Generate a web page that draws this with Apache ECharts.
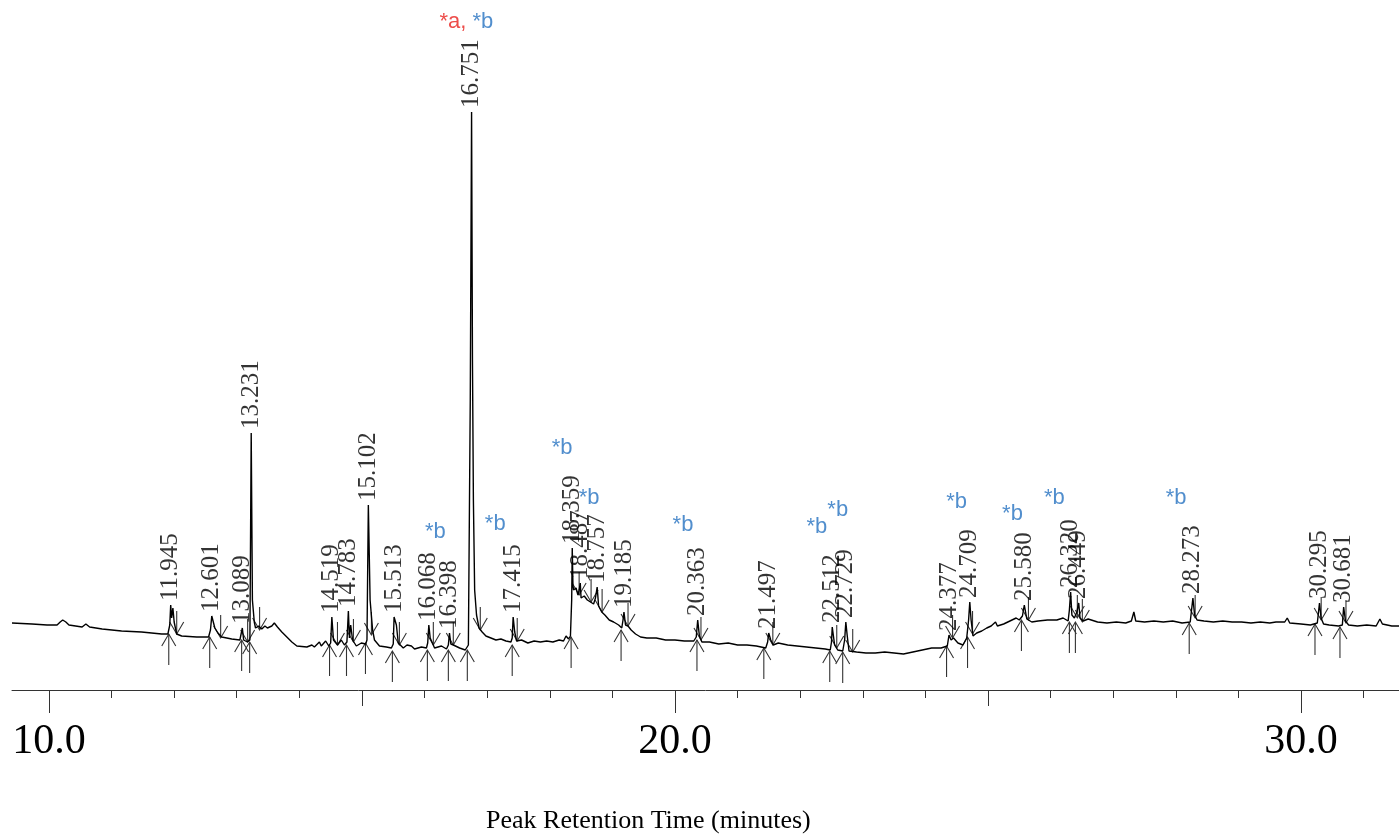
<!DOCTYPE html>
<html><head><meta charset="utf-8">
<script src="https://cdn.jsdelivr.net/npm/echarts@6/dist/echarts.min.js"></script>
<style>html,body{margin:0;padding:0;background:#fff}#c{width:1399px;height:836px}</style>
</head><body><div id="c"></div>
<script>
// Chromatogram trace: [retention time (min), detector signal (arb.)]
const chromatogram = [[9.41,67],[9.73,66],[9.97,65],[10.13,65],[10.18,68],[10.22,70],[10.27,68],[10.32,65],[10.53,63],[10.59,66],[10.65,63],[10.85,61],[11.16,59],[11.48,58],[11.80,56],[11.90,56],[11.93,65],[11.945,85],[11.96,72],[11.98,82],[12.00,68],[12.04,56],[12.12,54],[12.36,53],[12.55,53],[12.58,60],[12.601,74],[12.62,72],[12.65,62],[12.70,57],[12.76,53],[12.92,51],[13.05,50],[13.089,62],[13.11,50],[13.17,48],[13.21,50],[13.231,257],[13.25,90],[13.28,68],[13.30,62],[13.35,64],[13.40,61],[13.45,64],[13.49,62],[13.56,64],[13.60,67],[13.65,63],[13.72,58],[13.80,53],[13.88,48],[13.96,44],[14.12,43],[14.20,45],[14.24,43],[14.27,44],[14.32,48],[14.35,44],[14.42,49],[14.47,44],[14.50,47],[14.519,73],[14.545,50],[14.61,45],[14.67,50],[14.72,45],[14.76,48],[14.783,79],[14.80,52],[14.82,65],[14.85,50],[14.91,44],[14.99,47],[15.06,46],[15.08,50],[15.102,185],[15.13,90],[15.17,60],[15.20,50],[15.28,44],[15.39,43],[15.47,42],[15.50,46],[15.513,73],[15.55,65],[15.58,47],[15.66,42],[15.72,45],[15.79,44],[15.84,41],[15.95,43],[16.03,42],[16.05,47],[16.068,65],[16.09,52],[16.11,50],[16.16,42],[16.27,44],[16.35,41],[16.38,45],[16.398,57],[16.42,46],[16.46,45],[16.56,42],[16.65,40],[16.70,45],[16.73,290],[16.751,578],[16.765,330],[16.78,190],[16.80,100],[16.83,75],[16.87,62],[16.92,58],[16.98,54],[17.06,52],[17.14,50],[17.22,51],[17.30,49],[17.38,48],[17.40,52],[17.415,73],[17.44,58],[17.47,49],[17.55,50],[17.65,47],[17.75,49],[17.85,48],[17.95,49],[18.05,48],[18.15,50],[18.22,49],[18.26,54],[18.30,51],[18.33,54],[18.35,90],[18.359,142],[18.37,105],[18.38,100],[18.42,102],[18.45,95],[18.47,100],[18.487,107],[18.50,92],[18.55,94],[18.60,90],[18.65,88],[18.70,86],[18.73,92],[18.757,103],[18.78,84],[18.83,78],[18.88,75],[18.95,70],[19.02,68],[19.10,65],[19.15,62],[19.17,70],[19.185,78],[19.21,65],[19.25,64],[19.30,60],[19.37,56],[19.45,53],[19.55,52],[19.70,52],[19.85,50],[20.00,50],[20.15,49],[20.30,49],[20.34,53],[20.363,70],[20.39,54],[20.43,48],[20.55,48],[20.70,46],[20.85,47],[21.00,45],[21.15,45],[21.30,44],[21.45,42],[21.48,48],[21.497,57],[21.53,50],[21.57,45],[21.65,47],[21.80,45],[21.95,44],[22.10,43],[22.25,42],[22.40,41],[22.48,40],[22.50,48],[22.512,63],[22.55,45],[22.60,40],[22.68,39],[22.71,50],[22.729,68],[22.75,55],[22.78,39],[22.90,38],[23.05,37],[23.20,37],[23.35,38],[23.50,37],[23.65,36],[23.80,38],[23.95,40],[24.10,42],[24.25,42],[24.35,44],[24.377,55],[24.41,50],[24.45,52],[24.52,47],[24.60,45],[24.66,52],[24.69,70],[24.709,88],[24.73,70],[24.76,54],[24.82,57],[24.90,59],[24.98,62],[25.05,64],[25.12,68],[25.15,64],[25.25,66],[25.35,69],[25.45,72],[25.50,70],[25.55,74],[25.58,85],[25.62,71],[25.70,68],[25.80,69],[25.95,70],[26.10,70],[26.20,72],[26.28,69],[26.30,80],[26.32,98],[26.34,75],[26.38,72],[26.42,78],[26.449,87],[26.47,72],[26.52,69],[26.60,71],[26.75,68],[26.90,67],[27.05,68],[27.20,67],[27.29,69],[27.33,78],[27.36,69],[27.50,68],[27.65,69],[27.80,68],[27.95,69],[28.10,67],[28.23,68],[28.273,92],[28.30,75],[28.34,70],[28.45,69],[28.60,68],[28.75,69],[28.90,68],[29.05,68],[29.20,67],[29.35,68],[29.50,67],[29.60,68],[29.74,68],[29.78,72],[29.82,67],[30.00,66],[30.15,65],[30.26,67],[30.295,87],[30.32,72],[30.36,66],[30.45,65],[30.60,64],[30.66,65],[30.681,83],[30.71,69],[30.76,65],[30.90,64],[31.05,65],[31.20,64],[31.26,71],[31.30,66],[31.45,64],[31.565,64]];

// Labelled peaks
const peakTimes  = [11.945,12.601,13.089,13.231,14.519,14.783,15.102,15.513,16.068,16.398,16.751,17.415,18.359,18.487,18.757,19.185,20.363,21.497,22.512,22.729,24.377,24.709,25.580,26.320,26.449,28.273,30.295,30.681];
const peakLabels = ["11.945","12.601","13.089","13.231","14.519","14.783","15.102","15.513","16.068","16.398","16.751","17.415","18.359","18.487","18.757","19.185","20.363","21.497","22.512","22.729","24.377","24.709","25.580","26.320","26.449","28.273","30.295","30.681"];
const peakApex   = [85,74,62,257,73,79,185,73,65,57,578,73,142,107,103,78,70,57,63,68,55,88,85,98,87,92,87,83];

// Integration markers (peak start: arrow from below; peak end: arrow from above)
const startTimes  = [11.914,12.568,13.078,13.206,14.482,14.753,15.056,15.486,16.045,16.380,16.683,17.400,18.341,19.139,20.351,21.419,22.472,22.679,24.338,24.673,25.534,26.300,26.396,28.214,30.223,30.622];
const startLevels = [56,53,50,48,45,45,47,39,40,40,40,45,53,60,50,42,39,38,44,53,70,68,68,67,66,63];
const endTimes    = [12.041,12.743,13.174,13.365,14.609,14.864,15.151,15.598,16.140,16.459,16.890,17.480,18.469,18.660,18.836,19.250,20.415,21.563,22.584,22.839,24.434,24.753,25.646,26.427,26.507,28.309,30.322,30.718];
const endLevels   = [56,52,48,60,45,48,55,45,45,45,60,49,95,88,78,64,50,45,42,38,52,56,70,72,68,72,70,67];

// Annotations
const noteTimes  = [16.172,17.129,18.198,18.628,20.128,22.265,22.600,24.498,25.391,26.061,28.006];
const noteLevels = [158,166,242,192,165,163,180,188,176,192,192];
const mainNote = {time: 16.667, level: 668};

// Axis ticks
const minorTicks = [10,11,12,13,14,15,16,17,18,19,20,21,22,23,24,25,26,27,28,29,30,31];
const midTicks = [15,25];
const majorTicks = [10,20,30];

const X_MIN = 9.41, X_MAX = 31.565;
const chart = echarts.init(document.getElementById('c'));

const arrowData = startTimes.map((t,i)=>[t,startLevels[i],1]).concat(endTimes.map((t,i)=>[t,endLevels[i],-1]));

function axisBase(extra){
  return Object.assign({type:'value', min:X_MIN, max:X_MAX, position:'bottom', gridIndex:0,
    splitLine:{show:false}, axisLine:{show:false}, axisLabel:{show:false}, axisTick:{show:false}}, extra);
}

chart.setOption({
  animation:false,
  backgroundColor:'#fff',
  grid:{left:12,right:0,top:0,bottom:146},
  xAxis:[
    axisBase({
      axisLine:{show:true,lineStyle:{color:'#333',width:1}},
      axisTick:{show:true,length:8,customValues:minorTicks,lineStyle:{color:'#333',width:1}},
      axisLabel:{show:true,customValues:majorTicks,margin:31,fontFamily:'Liberation Serif',fontSize:42,color:'#000',
        formatter:v=>v.toFixed(1)}
    }),
    axisBase({axisTick:{show:true,length:16,customValues:midTicks,lineStyle:{color:'#333',width:1}}}),
    axisBase({axisTick:{show:true,length:23,customValues:majorTicks,lineStyle:{color:'#333',width:1}}})
  ],
  yAxis:{type:'value',min:0,max:690,show:false},
  graphic:[{type:'text',left:486,top:808,style:{text:'Peak Retention Time (minutes)',fontFamily:'Liberation Serif',fontSize:26,fill:'#000'}}],
  series:[
    {type:'line',data:chromatogram,showSymbol:false,symbol:'none',lineStyle:{color:'#000',width:1.4},silent:true,z:3},
    {type:'custom',data:arrowData,silent:true,z:2,clip:false,
      renderItem:function(params,api){
        const p=api.coord([api.value(0),api.value(1)]);
        const s=api.value(2)>0?1:-1;
        const L=s>0?31:23;
        return {type:'group',children:[
          {type:'line',shape:{x1:p[0],y1:p[1],x2:p[0],y2:p[1]+s*L},style:{stroke:'#333',lineWidth:1.1}},
          {type:'polyline',shape:{points:[[p[0]-7,p[1]+s*12],[p[0],p[1]],[p[0]+7,p[1]+s*12]]},style:{stroke:'#333',fill:null,lineWidth:1.1}}
        ]};
      }},
    {type:'scatter',symbolSize:0,silent:true,z:4,
      data:peakTimes.map((t,i)=>[t,peakApex[i],peakLabels[i]]),
      label:{show:true,position:'top',distance:4,rotate:90,align:'left',verticalAlign:'middle',
        fontFamily:'Liberation Serif',fontSize:25,color:'#000',formatter:p=>p.value[2]}},
    {type:'scatter',symbolSize:0,silent:true,z:4,
      data:noteTimes.map((t,i)=>[t,noteLevels[i]]),
      label:{show:true,position:'inside',fontFamily:'Liberation Sans',fontSize:22,color:'#2672c0',formatter:'*b'}},
    {type:'scatter',symbolSize:0,silent:true,z:4,
      data:[[mainNote.time,mainNote.level]],
      label:{show:true,position:'inside',fontFamily:'Liberation Sans',fontSize:22,
        formatter:'{a|*a,} {b|*b}',rich:{a:{color:'#e8211d',fontSize:22,fontFamily:'Liberation Sans'},b:{color:'#2672c0',fontSize:22,fontFamily:'Liberation Sans'}}}}
  ]
});
</script></body></html>
